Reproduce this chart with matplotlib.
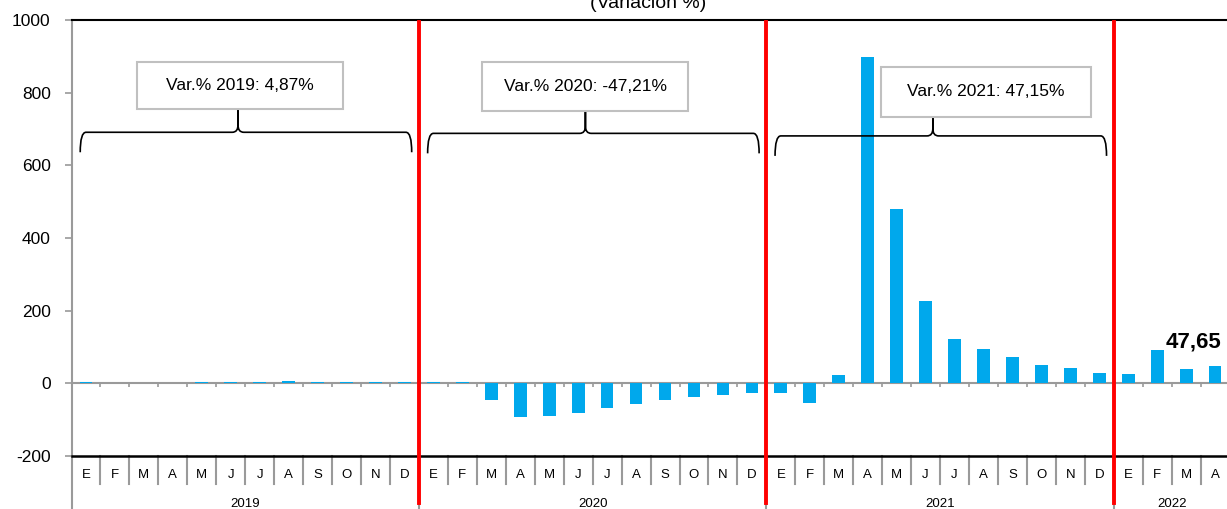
import numpy as np
import matplotlib
matplotlib.use("Agg")
import matplotlib.pyplot as plt
from matplotlib.path import Path
from matplotlib.patches import PathPatch, Rectangle
from matplotlib.lines import Line2D
import matplotlib.transforms as mtransforms

plt.rcParams['font.family'] = ['Liberation Sans', 'DejaVu Sans']
plt.rcParams['axes.unicode_minus'] = False

# data
years = ['2019', '2020', '2021', '2022']
months = ['E', 'F', 'M', 'A', 'M', 'J', 'J', 'A', 'S', 'O', 'N', 'D']
n_months = [12, 12, 12, 4]
values = [3, 2, 2, 2, 4, 3, 4, 6, 3, 5, 4, 3,
          3, 3, -46, -94, -90, -82, -68, -56, -46, -37, -33, -26,
          -27, -53, 23, 897, 479, 226, 122, 94, 73, 51, 43, 28,
          26, 91, 40, 47.65]
var_labels = ['Var.% 2019: 4,87%', 'Var.% 2020: -47,21%', 'Var.% 2021: 47,15%']
last_label = '47,65'

# annotation layout (per year box)
box_x = [5.32, 17.24, 31.08]
box_y = [819, 816, 803]
box_w = [7.1, 7.1, 7.25]
box_h = [130, 135, 138]
brace_y = [691, 688, 681]

bar_color = '#00a8ec'
grid_gray = '#9a9a9a'

fig = plt.figure(figsize=(12.27, 5.09), dpi=100)
ax = fig.add_axes([0.0583, 0.1041, 0.9438, 0.8566])

x = np.arange(len(values))
ax.bar(x, values, width=0.44, color=bar_color, zorder=3)

ax.set_xlim(-0.5, len(values) - 0.5)
ax.set_ylim(-200, 1000)
ax.set_yticks(np.arange(-200, 1001, 200))
ax.tick_params(axis='y', colors=grid_gray, labelcolor='black', length=5, width=1.2,
               labelsize=12.5, pad=10)

# zero axis with little ticks at the cell edges
ax.spines['bottom'].set_position(('data', 0))
ax.spines['bottom'].set_color(grid_gray)
ax.spines['bottom'].set_linewidth(1.5)
ax.set_xticks(x[:-1] + 0.5)
ax.tick_params(axis='x', colors=grid_gray, length=3, width=1.2, labelbottom=False)
ax.spines['left'].set_color(grid_gray)
ax.spines['left'].set_linewidth(1.5)
ax.spines['right'].set_visible(False)
ax.spines['top'].set_color('black')
ax.spines['top'].set_linewidth(1.5)
ax.axhline(-200, color='black', lw=1.8, clip_on=False, zorder=3)

# category labels below the plot
trans = mtransforms.blended_transform_factory(ax.transData, ax.transAxes)
for i in range(len(values)):
    ax.text(i, -0.044, months[i % 12], transform=trans, ha='center', va='center',
            fontsize=9.5)
    if i < len(values) - 1:
        ax.add_line(Line2D([i + 0.5, i + 0.5], [0, -0.064], transform=trans,
                           color=grid_gray, lw=1.5, clip_on=False))

starts = np.cumsum([0] + n_months)
for k, yr in enumerate(years):
    s, e = starts[k] - 0.5, starts[k + 1] - 0.5
    ax.text((s + e) / 2, -0.11, yr, transform=trans, ha='center', va='center',
            fontsize=9.5)
    ax.add_line(Line2D([s, s], [0, -0.13], transform=trans, color=grid_gray,
                       lw=1.5, clip_on=False))
    if k > 0:
        ax.add_line(Line2D([s, s], [-0.108, 0.995], transform=trans, color='#ff0000',
                           lw=2.8, clip_on=False, zorder=5))

# braces and text boxes
for k in range(3):
    x0 = starts[k] - 0.5 + 0.3
    x1 = starts[k + 1] - 0.5 - 0.25
    xc = (starts[k] + starts[k + 1] - 1) / 2 - 0.25
    yb = brace_y[k]
    ye = yb - 55
    yp = box_y[k] - box_h[k] / 2
    verts = [(x0, ye), (x0, yb), (x0 + 0.2, yb),
             (xc - 0.2, yb), (xc, yb), (xc, yb + 20),
             (xc, yp), (xc, yb + 20),
             (xc, yb), (xc + 0.2, yb),
             (x1 - 0.2, yb), (x1, yb), (x1, ye)]
    codes = [Path.MOVETO, Path.CURVE3, Path.CURVE3,
             Path.LINETO, Path.CURVE3, Path.CURVE3,
             Path.LINETO, Path.LINETO,
             Path.CURVE3, Path.CURVE3,
             Path.LINETO, Path.CURVE3, Path.CURVE3]
    ax.add_patch(PathPatch(Path(verts, codes), fill=False, ec='black', lw=1.2, zorder=4))
    ax.add_patch(Rectangle((box_x[k] - box_w[k] / 2, box_y[k] - box_h[k] / 2),
                           box_w[k], box_h[k], fc='white', ec='#c0c0c0', lw=1.5, zorder=4))
    ax.text(box_x[k], box_y[k], var_labels[k], ha='center', va='center', fontsize=12.5,
            zorder=5)

ax.text(x[-1] - 0.75, values[-1] + 66, last_label, ha='center', va='center',
        fontsize=16, fontweight='bold', zorder=5)

fig.text(0.528, 0.984, '(Variación %)', ha='center', va='baseline', fontsize=14)

fig.savefig('out.png', dpi=100)
